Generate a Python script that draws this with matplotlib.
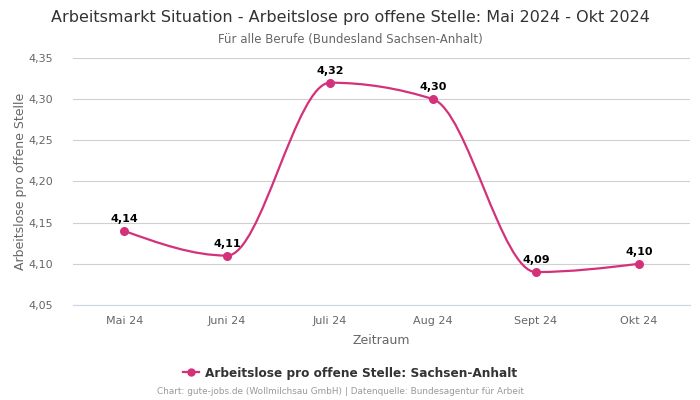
"""
Arbeitsmarkt Situation - Arbeitslose pro offene Stelle, Sachsen-Anhalt
"""
import matplotlib
matplotlib.use("Agg")
import matplotlib.pyplot as plt
from matplotlib.path import Path
from matplotlib.patches import PathPatch
from matplotlib.lines import Line2D
import numpy as np

plt.rcParams.update({
    "font.family": ["DejaVu Sans"],
    "figure.dpi": 100,
})

months = ["Mai 24", "Juni 24", "Juli 24", "Aug 24", "Sept 24", "Okt 24"]
values = [4.14, 4.11, 4.32, 4.30, 4.09, 4.10]
value_labels = ["4,14", "4,11", "4,32", "4,30", "4,09", "4,10"]
yticks = [4.05, 4.10, 4.15, 4.20, 4.25, 4.30, 4.35]
ytick_labels = ["4,05", "4,10", "4,15", "4,20", "4,25", "4,30", "4,35"]

LINE_COLOR = "#d4317b"
GRID_COLOR = "#d0d0d0"
TEXT_GRAY = "#666666"


def monotone_path(x, y):
    # monotone cubic (wie d3 curveMonotoneX), als Bezier-Pfad
    x = np.asarray(x, float)
    y = np.asarray(y, float)
    n = len(x)
    h = np.diff(x)
    s = np.diff(y) / h
    t = np.zeros(n)
    for i in range(1, n - 1):
        p = (s[i - 1] * h[i] + s[i] * h[i - 1]) / (h[i - 1] + h[i])
        t[i] = (np.sign(s[i - 1]) + np.sign(s[i])) * min(abs(s[i - 1]), abs(s[i]), 0.5 * abs(p))
    t[0] = (3 * s[0] - t[1]) / 2
    t[-1] = (3 * s[-1] - t[-2]) / 2
    verts = [(x[0], y[0])]
    codes = [Path.MOVETO]
    for i in range(n - 1):
        dx = (x[i + 1] - x[i]) / 3
        verts += [(x[i] + dx, y[i] + dx * t[i]),
                  (x[i + 1] - dx, y[i + 1] - dx * t[i + 1]),
                  (x[i + 1], y[i + 1])]
        codes += [Path.CURVE4] * 3
    return Path(verts, codes)


fig = plt.figure(figsize=(7, 4))
ax = fig.add_axes([0.104, 0.2375, 0.882, 0.6175])

xs = np.arange(len(months))
ax.add_patch(PathPatch(monotone_path(xs, values), fill=False,
                       edgecolor=LINE_COLOR, lw=1.6, zorder=3))
ax.scatter(xs, values, s=30, color=LINE_COLOR, zorder=4)
for xi, v, lab in zip(xs, values, value_labels):
    ax.annotate(lab, (xi, v), xytext=(0, 5), textcoords="offset points",
                ha="center", va="bottom", fontsize=8, fontweight="bold",
                color="black")

ax.set_xlim(-0.5, len(months) - 0.5)
ax.set_ylim(4.05, 4.35)
ax.set_xticks(xs)
ax.set_xticklabels(months)
ax.set_yticks(yticks)
ax.set_yticklabels(ytick_labels)
ax.tick_params(axis="both", length=0, labelsize=8, colors=TEXT_GRAY)
ax.tick_params(axis="x", pad=8)
ax.tick_params(axis="y", pad=14)
ax.grid(axis="y", color=GRID_COLOR, lw=0.8)
ax.set_axisbelow(True)
for side in ["top", "right", "left"]:
    ax.spines[side].set_visible(False)
ax.spines["bottom"].set_color("#ccd6eb")
ax.spines["bottom"].set_linewidth(0.8)

ax.set_xlabel("Zeitraum", fontsize=9, color=TEXT_GRAY, labelpad=6)
ax.set_ylabel("Arbeitslose pro offene Stelle", fontsize=9, color=TEXT_GRAY, labelpad=1)

fig.text(0.5, 0.957, "Arbeitsmarkt Situation - Arbeitslose pro offene Stelle: Mai 2024 - Okt 2024",
         ha="center", va="center", fontsize=11.5, color="#333333")
fig.text(0.5, 0.9, "Für alle Berufe (Bundesland Sachsen-Anhalt)",
         ha="center", va="center", fontsize=8.5, color=TEXT_GRAY)

handle = Line2D([], [], color=LINE_COLOR, lw=1.6, marker="o", markersize=5)
fig.legend([handle], ["Arbeitslose pro offene Stelle: Sachsen-Anhalt"],
           loc="center", bbox_to_anchor=(0.5, 0.0675), frameon=False,
           prop={"size": 8.7, "weight": "bold"}, labelcolor="#333333",
           handlelength=1.3, handletextpad=0.5)
fig.text(0.486, 0.02, "Chart: gute-jobs.de (Wollmilchsau GmbH) | Datenquelle: Bundesagentur für Arbeit",
         ha="center", va="center", fontsize=6.4, color="#999999")

fig.savefig("out.png", dpi=100)
plt.close(fig)
